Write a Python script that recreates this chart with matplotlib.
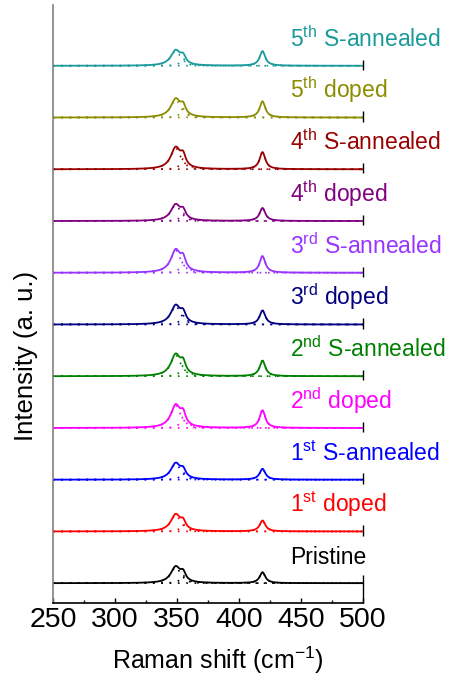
import numpy as np
import matplotlib
matplotlib.use("Agg")
import matplotlib.pyplot as plt

plt.rcParams['font.family'] = ['Liberation Sans', 'DejaVu Sans']
plt.rcParams['mathtext.fontset'] = 'custom'
plt.rcParams['mathtext.rm'] = 'Liberation Sans'
plt.rcParams['mathtext.it'] = 'Liberation Sans:italic'

# Samples, bottom to top
labels = ["Pristine",
          "1$^{\\mathrm{st}}$ doped", "1$^{\\mathrm{st}}$ S-annealed",
          "2$^{\\mathrm{nd}}$ doped", "2$^{\\mathrm{nd}}$ S-annealed",
          "3$^{\\mathrm{rd}}$ doped", "3$^{\\mathrm{rd}}$ S-annealed",
          "4$^{\\mathrm{th}}$ doped", "4$^{\\mathrm{th}}$ S-annealed",
          "5$^{\\mathrm{th}}$ doped", "5$^{\\mathrm{th}}$ S-annealed"]
colors = ["#000000", "#ff0000", "#0000ff", "#ff00ff", "#008000",
          "#000080", "#9933ff", "#800080", "#990000", "#8c8c00", "#1a9a9a"]

# Lorentzian fit components: 2LA(M), E2g, A1g
centers = [349.0, 355.0, 419.0]
fwhm = [9.5, 5.0, 5.5]
amp_2la = [0.31, 0.32, 0.31, 0.43, 0.41, 0.36, 0.43, 0.31, 0.41, 0.35, 0.29]
amp_e2g = [0.15, 0.14, 0.14, 0.21, 0.20, 0.17, 0.21, 0.15, 0.20, 0.17, 0.14]
amp_a1g = [0.21, 0.21, 0.21, 0.34, 0.30, 0.27, 0.32, 0.25, 0.33, 0.31, 0.28]

x = np.linspace(250, 500, 1001)


def lorentz(xv, a, c, w):
    g = w / 2.0
    return a * g**2 / ((xv - c)**2 + g**2)


fig = plt.figure(figsize=(4.6, 6.77), dpi=100)
ax = fig.add_axes([0.115, 0.109, 0.674, 0.884])

spacing = 1.0
for i, (lab, col) in enumerate(zip(labels, colors)):
    off = i * spacing
    comps = [lorentz(x, a, c, w) for a, c, w in
             zip((amp_2la[i], amp_e2g[i], amp_a1g[i]), centers, fwhm)]
    total = sum(comps)
    for cp in comps:
        ax.plot(x, cp + off, color=col, lw=1.2, ls=(0, (1.0, 4.0)))
    ax.plot(x, total + off, color=col, lw=1.3)
    ax.text(441, off + 0.37, lab, color=col, fontsize=16.5,
            ha='left', va='baseline', clip_on=False)
    # end marker at the right edge of each trace
    if i == 0:
        ax.plot([500, 500], [-0.387, off + 0.16], color='black', lw=1.0,
                clip_on=False, solid_capstyle='butt')
    else:
        ax.plot([500, 500], [off - 0.08, off + 0.12], color='black', lw=1.0,
                clip_on=False, solid_capstyle='butt')

ax.set_xlim(250, 500)
ax.set_ylim(-0.387, 11.18)
ax.set_xticks([250, 300, 350, 400, 450, 500])
ax.set_xticks(np.arange(275, 500, 50), minor=True)
ax.set_yticks([])
ax.tick_params(axis='x', which='major', direction='in', length=3.5, width=1,
               labelsize=20.5, pad=3)
ax.tick_params(axis='x', which='minor', direction='in', length=2, width=1)
ax.spines['top'].set_visible(False)
ax.spines['right'].set_visible(False)
ax.spines['left'].set_color('#808080')
ax.spines['left'].set_linewidth(1.2)
ax.spines['bottom'].set_linewidth(1.2)

fig.text(0.474, 0.0118, "Raman shift (cm$^{-1}$)", fontsize=18,
         ha='center', va='baseline')
fig.text(0.0565, 0.474, "Intensity (a. u.)", fontsize=18.5,
         rotation=90, ha='center', va='center')

fig.savefig("out.png", dpi=100)
